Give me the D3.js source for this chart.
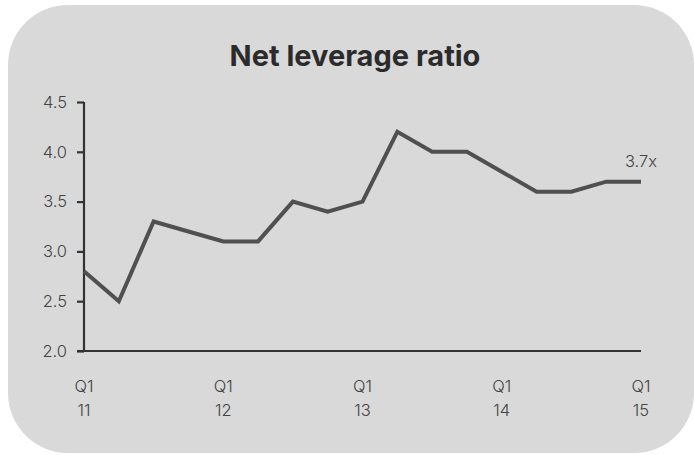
<!DOCTYPE html>
<html>
<head>
<meta charset="utf-8">
<script src="https://cdn.jsdelivr.net/npm/d3@7"></script>
<style>
  html, body { margin: 0; padding: 0; background: #ffffff; }
  svg { display: block; }
</style>
</head>
<body>
<script>
// Quarter-end net leverage, Q1 2011 through Q1 2015
const quarters = ["Q1 11","Q2 11","Q3 11","Q4 11","Q1 12","Q2 12","Q3 12","Q4 12",
                  "Q1 13","Q2 13","Q3 13","Q4 13","Q1 14","Q2 14","Q3 14","Q4 14","Q1 15"];
const leverage = [2.8, 2.5, 3.3, 3.2, 3.1, 3.1, 3.5, 3.4, 3.5, 4.2, 4.0, 4.0, 3.8, 3.6, 3.6, 3.7, 3.7];
const yTicks = [2.0, 2.5, 3.0, 3.5, 4.0, 4.5];
const xTickLabels = [["Q1","11"],["Q1","12"],["Q1","13"],["Q1","14"],["Q1","15"]];
const xTickIndex = [0, 4, 8, 12, 16];
const title = "Net leverage ratio";
const endLabel = "3.7x";

const W = 694, H = 455;
const svg = d3.select("body").append("svg").attr("width", W).attr("height", H);

// card background
svg.append("rect")
  .attr("x", 8).attr("y", 5).attr("width", 686).attr("height", 448)
  .attr("rx", 60).attr("ry", 60)
  .attr("fill", "#d9d9d9");

svg.append("text")
  .attr("x", 355).attr("y", 66)
  .attr("text-anchor", "middle")
  .attr("font-family", "Inter, 'Open Sans', sans-serif")
  .attr("font-weight", 700)
  .attr("font-size", 29)
  .attr("fill", "#2b2b2b")
  .text(title);

const x = d3.scaleLinear().domain([0, quarters.length - 1]).range([84, 641]);
const y = d3.scaleLinear().domain([2.0, 4.5]).range([351, 102]);

const tickFont = "Inter, 'Open Sans', sans-serif";

// y axis
const yAxis = svg.append("g").attr("transform", "translate(84,0)")
  .call(d3.axisLeft(y).tickValues(yTicks).tickFormat(d3.format(".1f")).tickSize(7).tickPadding(10));
yAxis.select(".domain").attr("stroke", "#333").attr("stroke-width", 2.2).attr("d", `M0,${y(4.5)}V${y(2.0)}`);
yAxis.selectAll(".tick line").attr("stroke", "#333").attr("stroke-width", 2.2);
yAxis.selectAll(".tick text")
  .attr("font-family", tickFont).attr("font-weight", 300)
  .attr("font-size", 16.5).attr("fill", "#444");

// x axis baseline
const xAxis = svg.append("g").attr("transform", `translate(0,${y(2.0)})`)
  .call(d3.axisBottom(x).tickValues(xTickIndex).tickSize(0).tickFormat(""));
xAxis.select(".domain").attr("stroke", "#333").attr("stroke-width", 2.2)
  .attr("d", `M${x(0) - 7},0H${x(quarters.length - 1)}`);

// two-line x tick labels
xTickIndex.forEach((qi, i) => {
  const t = svg.append("text")
    .attr("x", x(qi)).attr("text-anchor", "middle")
    .attr("font-family", tickFont).attr("font-weight", 300)
    .attr("font-size", 16.5).attr("fill", "#444");
  t.append("tspan").attr("x", x(qi)).attr("y", 392).text(xTickLabels[i][0]);
  t.append("tspan").attr("x", x(qi)).attr("y", 416).text(xTickLabels[i][1]);
});

// leverage line
const line = d3.line().x((d, i) => x(i)).y(d => y(d));
svg.append("path")
  .datum(leverage)
  .attr("d", line)
  .attr("fill", "none")
  .attr("stroke", "#505050")
  .attr("stroke-width", 4)
  .attr("stroke-linejoin", "miter");

// latest value label
const last = leverage.length - 1;
svg.append("text")
  .attr("x", x(last)).attr("y", y(leverage[last]) - 15)
  .attr("text-anchor", "middle")
  .attr("font-family", tickFont).attr("font-weight", 300)
  .attr("font-size", 16.5).attr("fill", "#444")
  .text(endLabel);
</script>
</body>
</html>
